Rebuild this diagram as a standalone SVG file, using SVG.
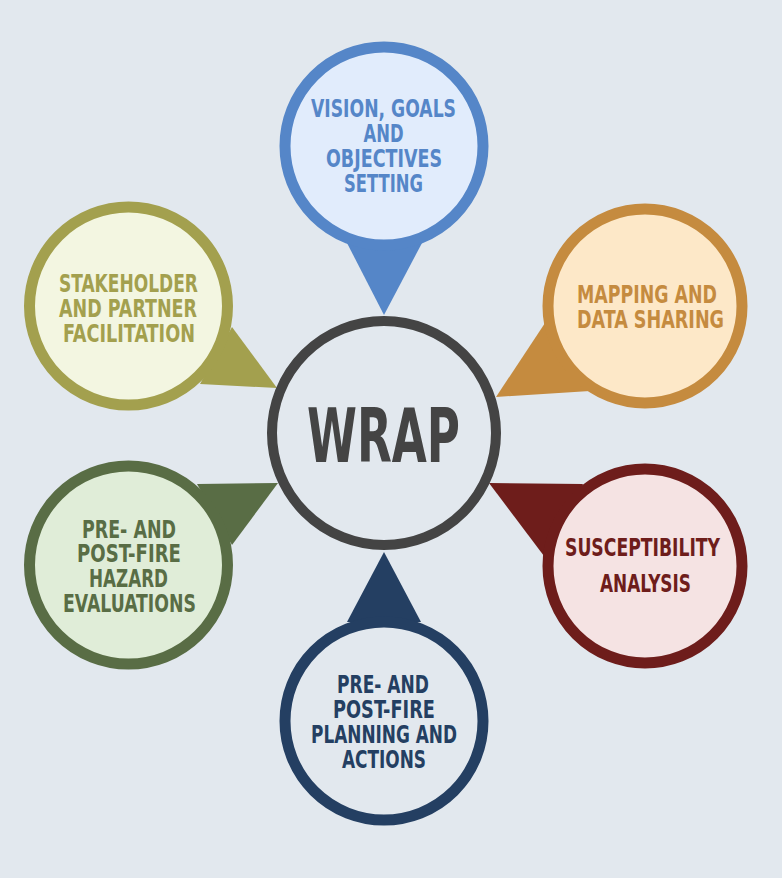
<svg xmlns="http://www.w3.org/2000/svg" width="782" height="878" viewBox="0 0 782 878">
<style>
text{font-family:"DejaVu Sans Condensed","DejaVu Sans","Liberation Sans",sans-serif;font-weight:bold;text-anchor:middle;font-size:25px}
text.big{font-size:74px}
.ring{stroke-width:11}
</style>
<rect width="782" height="878" fill="#e2e8ee"/>
<g id="connectors">
<polygon points="347,243 422,243 384,315" fill="#5586c8"/>
<polygon points="232,327 200,384 277,388" fill="#a3a04e"/>
<polygon points="545,323 590,391 496,397" fill="#c58b3f"/>
<polygon points="197,484 278,483 232,545" fill="#596d45"/>
<polygon points="489,483 583,484 547,560" fill="#6e1d1b"/>
<polygon points="347,622 421,622 384,552" fill="#243f62"/>
</g>
<g id="center">
<circle cx="384" cy="433" r="112" fill="#e2e8ee" stroke="#444444" stroke-width="10"/>
<text class="big" x="383.5" y="462" textLength="153" lengthAdjust="spacingAndGlyphs" fill="#444444">WRAP</text>
</g>
<g id="vision" fill="#5586c8">
<circle class="ring" cx="384" cy="146" r="99" fill="#e1ecfc" stroke="#5586c8"/>
<text x="383.5" y="117" textLength="145" lengthAdjust="spacingAndGlyphs">VISION, GOALS</text>
<text x="383.5" y="142" textLength="40" lengthAdjust="spacingAndGlyphs">AND</text>
<text x="384" y="167" textLength="116" lengthAdjust="spacingAndGlyphs">OBJECTIVES</text>
<text x="383.5" y="192" textLength="79" lengthAdjust="spacingAndGlyphs">SETTING</text>
</g>
<g id="stakeholder" fill="#a3a04e">
<circle class="ring" cx="128.5" cy="306" r="99" fill="#f3f6e1" stroke="#a3a04e"/>
<text x="128.5" y="292" textLength="139" lengthAdjust="spacingAndGlyphs">STAKEHOLDER</text>
<text x="128" y="317" textLength="138" lengthAdjust="spacingAndGlyphs">AND PARTNER</text>
<text x="129" y="342" textLength="132" lengthAdjust="spacingAndGlyphs">FACILITATION</text>
</g>
<g id="mapping" fill="#c58b3f">
<circle class="ring" cx="645" cy="306" r="97" fill="#fde8c8" stroke="#c58b3f"/>
<text x="647" y="303" textLength="140" lengthAdjust="spacingAndGlyphs">MAPPING AND</text>
<text x="650.5" y="328" textLength="147" lengthAdjust="spacingAndGlyphs">DATA SHARING</text>
</g>
<g id="hazard" fill="#596d45">
<circle class="ring" cx="128.5" cy="565" r="99" fill="#e0edd8" stroke="#596d45"/>
<text x="129" y="538" textLength="94" lengthAdjust="spacingAndGlyphs">PRE- AND</text>
<text x="129" y="562" textLength="104" lengthAdjust="spacingAndGlyphs">POST-FIRE</text>
<text x="128.5" y="587" textLength="79" lengthAdjust="spacingAndGlyphs">HAZARD</text>
<text x="129.5" y="612" textLength="133" lengthAdjust="spacingAndGlyphs">EVALUATIONS</text>
</g>
<g id="susceptibility" fill="#6e1d1b">
<circle class="ring" cx="645" cy="566" r="97" fill="#f5e3e3" stroke="#6e1d1b"/>
<text x="642.5" y="556" textLength="155" lengthAdjust="spacingAndGlyphs">SUSCEPTIBILITY</text>
<text x="645.5" y="592" textLength="91" lengthAdjust="spacingAndGlyphs">ANALYSIS</text>
</g>
<g id="planning" fill="#243f62">
<circle class="ring" cx="384" cy="721" r="99" fill="#e2e8ee" stroke="#243f62"/>
<text x="383" y="693" textLength="92" lengthAdjust="spacingAndGlyphs">PRE- AND</text>
<text x="384" y="718" textLength="102" lengthAdjust="spacingAndGlyphs">POST-FIRE</text>
<text x="384" y="743" textLength="146" lengthAdjust="spacingAndGlyphs">PLANNING AND</text>
<text x="384" y="768" textLength="84" lengthAdjust="spacingAndGlyphs">ACTIONS</text>
</g>
</svg>
